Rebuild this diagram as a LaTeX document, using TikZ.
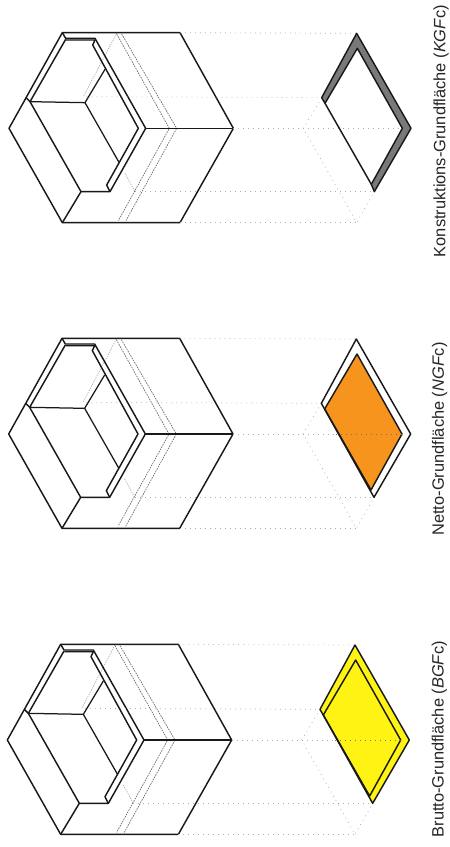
\documentclass[tikz,border=0pt]{standalone}
\usepackage{fontspec}
\setmainfont{Liberation Sans}
\newcommand{\stylab}[2]{#1 (\textit{#2}c)}
\definecolor{ngfc}{RGB}{247,148,30}
\definecolor{bgfc}{RGB}{255,243,20}
\definecolor{kgfc}{RGB}{120,122,120}
\tikzset{
  edge/.style={line width=1.25pt,black!90,line join=round},
  heavy/.style={line width=1.45pt,black!90,line join=round},
  proj/.style={line width=0.7pt,black!32,dash pattern=on 0.8pt off 4.2pt},
  hid/.style={line width=0.65pt,black!60,dash pattern=on 1.6pt off 1pt},
  hidl/.style={line width=0.65pt,black!35,dash pattern=on 1.2pt off 1.2pt},
  lab/.style={rotate=90,font=\fontsize{16.4}{18}\selectfont,inner sep=0pt,text=black!85},
  u/.style={x=0.33333pt,y=-0.33333pt}
}
\newcommand{\buildingbody}{%
  \coordinate (HL) at (27,385); \coordinate (HTL) at (187,98); \coordinate (HTR) at (540,98);
  \coordinate (HR) at (700,385); \coordinate (HBR) at (540,668); \coordinate (HBL) at (187,668);
  \coordinate (DT) at (1070,100); \coordinate (DR) at (1233,385); \coordinate (DB) at (1123,575); \coordinate (DL) at (965,293);
  \coordinate (It) at (1072,145); \coordinate (Ir) at (1207,385); \coordinate (Ib) at (1114,553); \coordinate (Il) at (975,310);
  % hidden lines
  \draw[hidl] (350,100) -- (250,290) (375,520) -- (405,575);
  \draw[hid] (350,102) -- (508,385) -- (355,662);
  \draw[hid] (365,102) -- (530,385) -- (378,662);
  % outer prism
  \draw[heavy] (HTL) -- (HTR) -- (HR) -- (HBR) -- (HBL) -- (HL) -- cycle;
  \draw[heavy] (437,385) -- (HR);
  % recess
  \draw[heavy] (HTL) -- (197,115) -- (285,115) -- (437,385) -- (330,575) -- (243,575) -- (HBL);
  \draw[heavy] (197,118) -- (90,305) -- (243,575);
  \draw[heavy] (78,293) -- (90,305);
  \draw[heavy] (198,120) -- (285,120) -- (278,135) -- (415,385) -- (320,555) -- (330,575);
  \draw[edge] (90,305) -- (255,308) -- (315,208) (255,308) -- (357,487);
  % projection lines
  \draw[proj] (HTR) -- (DT);
  \draw[proj] (260,290) -- (DL);
  \draw[proj] (HR) -- (Ir);
  \draw[proj] (405,575) -- (DB);
  \draw[proj] (HBR) -- (1070,668);
  \draw[proj] (DL) -- (910,385) -- (1070,668) -- (DB);
}
\begin{document}
\begin{tikzpicture}[u]
\useasboundingbox (0,0) rectangle (1350,2541);
\fill[white] (0,0) rectangle (1350,2541);
% top: KGF
\begin{scope}[shift={(0,0)}]
  \buildingbody
  \fill[kgfc] (DT) -- (DR) -- (DB) -- (Ib) -- (Ir) -- (It) -- (Il) -- (DL) -- cycle;
  \draw[heavy] (DT) -- (DR) -- (DB) -- (Ib) -- (Ir) -- (It) -- (Il) -- (DL) -- cycle;
  \draw[heavy] (Il) -- (Ib);
  \node[lab,anchor=center] (kgflab) at (1323,393) {\stylab{Konstruktions-Grundfläche}{KGF}};
\end{scope}
% middle: NGF
\begin{scope}[shift={(-1,917)}]
  \buildingbody
  \fill[white] (DT) -- (DR) -- (DB) -- (DL) -- cycle;
  \fill[ngfc] (It) -- (Ir) -- (Ib) -- (Il) -- cycle;
  \draw[heavy] (DT) -- (DR) -- (DB) -- (DL) -- cycle;
  \draw[heavy] (It) -- (Ir) -- (Ib) -- (Il) -- cycle;
  \draw[proj,black!55] (1010,385) -- (Ir);
  \node[lab,anchor=center] (ngflab) at (1320,400) {\stylab{Netto-Grundfläche}{NGF}};
\end{scope}
% bottom: BGF
\begin{scope}[shift={(-5,1835)}]
  \buildingbody
  \fill[bgfc] (DT) -- (DR) -- (DB) -- (DL) -- cycle;
  \draw[heavy] (DT) -- (DR) -- (DB) -- (DL) -- cycle;
  \draw[heavy] (It) -- (Ir) -- (Ib) -- (Il) -- cycle;
  \draw[proj,black!55] (1010,385) -- (Ir);
  \node[lab,anchor=center] (bgflab) at (1323,382) {\stylab{Brutto-Grundfläche}{BGF}};
\end{scope}
\end{tikzpicture}
\end{document}
